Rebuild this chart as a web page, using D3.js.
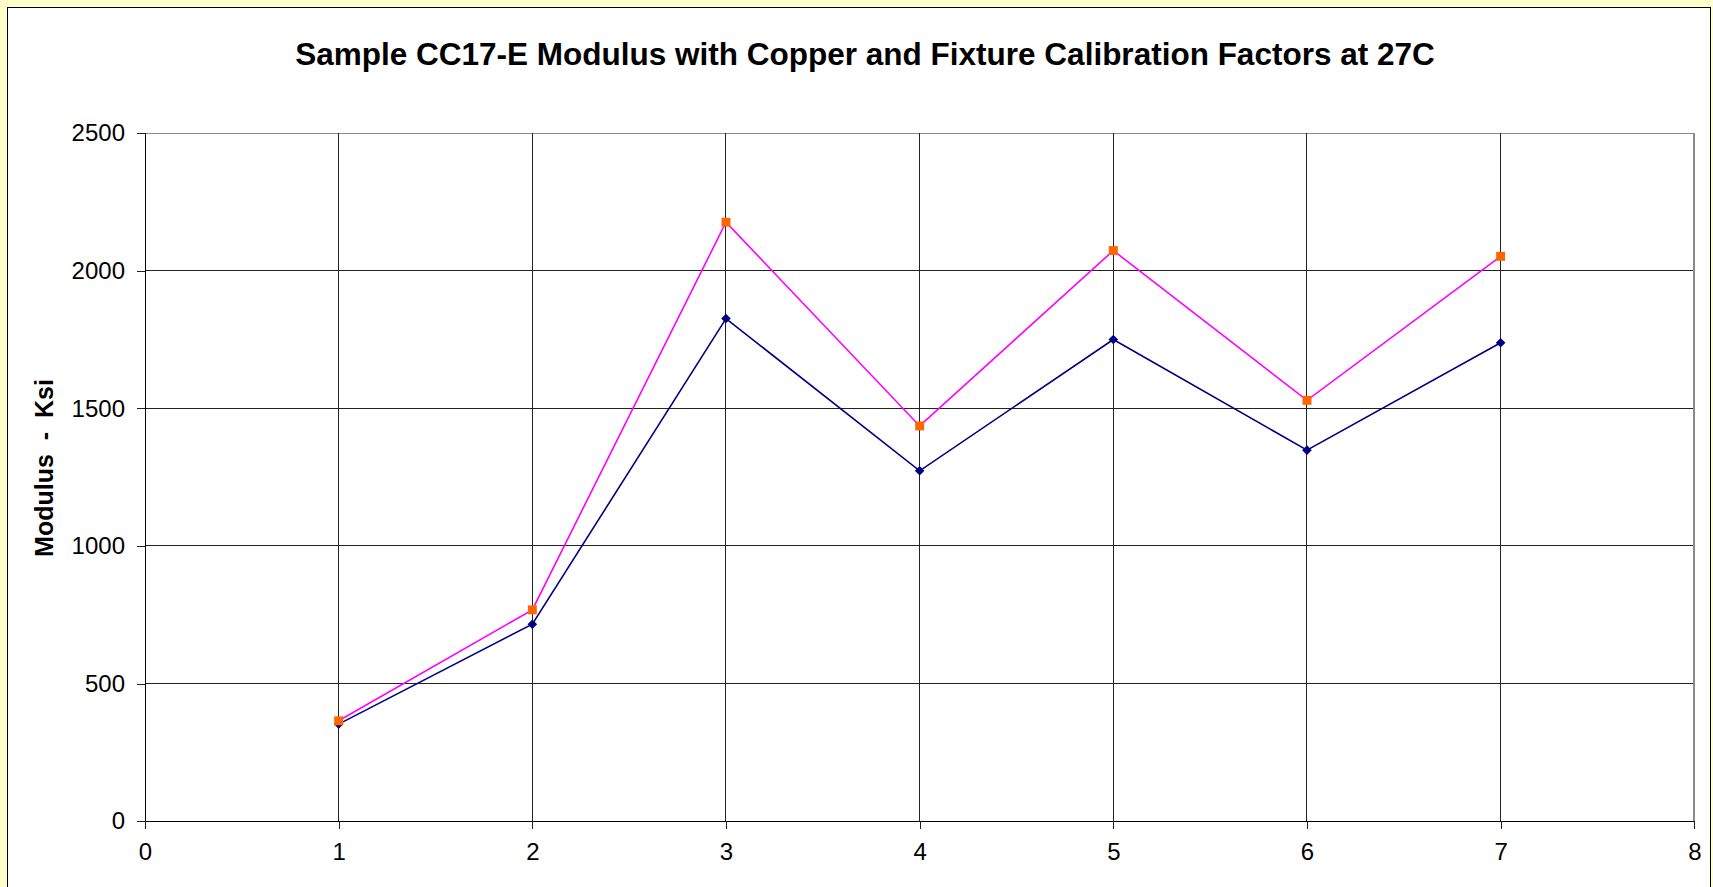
<!DOCTYPE html>
<html>
<head>
<meta charset="utf-8">
<script src="https://cdn.jsdelivr.net/npm/d3@7"></script>
<style>
  body { margin: 0; background: #FFFFCC; }
  svg { display: block; font-family: "Liberation Sans", Arial, sans-serif; }
</style>
</head>
<body>
<div id="chart"></div>
<script>
// Data
const x_values = [1, 2, 3, 4, 5, 6, 7];
const copper_modulus = [353, 716, 1826, 1273, 1750, 1348, 1738];
const fixture_modulus = [365, 768, 2176, 1436, 2073, 1529, 2052];
const x_ticks = [0, 1, 2, 3, 4, 5, 6, 7, 8];
const y_ticks = [0, 500, 1000, 1500, 2000, 2500];
const title_text = "Sample CC17-E Modulus with Copper and Fixture Calibration Factors at 27C";
const y_label = "Modulus  -  Ksi";

// Consts
const total_w = 1713, total_h = 887;
const margin = {top: 133, left: 145, right: 18.7, bottom: 65.7};
const width = total_w - margin.left - margin.right;
const height = total_h - margin.top - margin.bottom;
const grid_color = "#222";
const border_gray = "#8a8a8a";
const navy = "#000080";
const magenta = "#FF00FF";
const orange = "#FF6600";

const svg = d3.select("#chart").append("svg")
    .attr("width", total_w)
    .attr("height", total_h);

// chart frame
svg.append("rect")
    .attr("x", 7.5).attr("y", 7.5)
    .attr("width", 1703).attr("height", 900)
    .attr("fill", "white")
    .attr("stroke", "black");

const g = svg.append("g")
    .attr("transform", "translate(" + margin.left + "," + margin.top + ")");

const x = d3.scaleLinear().domain([0, 8]).range([0, width]);
const y = d3.scaleLinear().domain([0, 2500]).range([height, 0]);

// grid
g.selectAll(".hgrid").data(y_ticks).enter().append("line")
    .attr("x1", 0).attr("x2", width)
    .attr("y1", d => y(d)).attr("y2", d => y(d))
    .attr("stroke", d => d == 2500 ? border_gray : grid_color)
    .attr("stroke-width", 1)
    .attr("shape-rendering", "crispEdges");
g.selectAll(".vgrid").data(x_ticks).enter().append("line")
    .attr("x1", d => x(d)).attr("x2", d => x(d))
    .attr("y1", 0).attr("y2", height)
    .attr("stroke", d => d == 8 ? border_gray : grid_color)
    .attr("stroke-width", d => d == 8 ? 2 : 1)
    .attr("shape-rendering", "crispEdges");

// axes
const yAxis = g.append("g")
    .call(d3.axisLeft(y).tickValues(y_ticks).tickSize(8).tickPadding(12).tickFormat(d3.format("d")));
const xAxis = g.append("g")
    .attr("transform", "translate(0," + height + ")")
    .call(d3.axisBottom(x).tickValues(x_ticks).tickSize(8).tickPadding(14).tickFormat(d3.format("d")));
[xAxis, yAxis].forEach(a => {
    a.select(".domain").attr("stroke", "black").attr("shape-rendering", "crispEdges");
    a.selectAll(".tick line").attr("stroke", grid_color).attr("shape-rendering", "crispEdges");
    a.selectAll(".tick text")
        .attr("fill", "black")
        .style("font-family", "'Liberation Sans', Arial, sans-serif")
        .style("font-size", "24px");
});

// lines
const line = d3.line()
    .x((d, i) => x(x_values[i]))
    .y(d => y(d));

g.append("path").datum(fixture_modulus)
    .attr("d", line).attr("fill", "none")
    .attr("stroke", magenta).attr("stroke-width", 1.6);
g.append("path").datum(copper_modulus)
    .attr("d", line).attr("fill", "none")
    .attr("stroke", navy).attr("stroke-width", 1.6);

// markers
g.selectAll(".diamond").data(copper_modulus).enter().append("path")
    .attr("d", d3.symbol(d3.symbolSquare, 46)())
    .attr("transform", (d, i) => "translate(" + x(x_values[i]) + "," + y(d) + ") rotate(45)")
    .attr("fill", navy);
g.selectAll(".square").data(fixture_modulus).enter().append("path")
    .attr("d", d3.symbol(d3.symbolSquare, 80)())
    .attr("transform", (d, i) => "translate(" + x(x_values[i]) + "," + y(d) + ")")
    .attr("fill", orange);

// title
svg.append("text")
    .attr("x", 865).attr("y", 65)
    .attr("text-anchor", "middle")
    .style("font-size", "31.5px")
    .style("font-weight", "bold")
    .text(title_text);

// y label
svg.append("text")
    .attr("transform", "translate(53,468) rotate(-90)")
    .attr("text-anchor", "middle")
    .style("font-size", "25px")
    .style("font-weight", "bold")
    .style("white-space", "pre")
    .text(y_label);
</script>
</body>
</html>
